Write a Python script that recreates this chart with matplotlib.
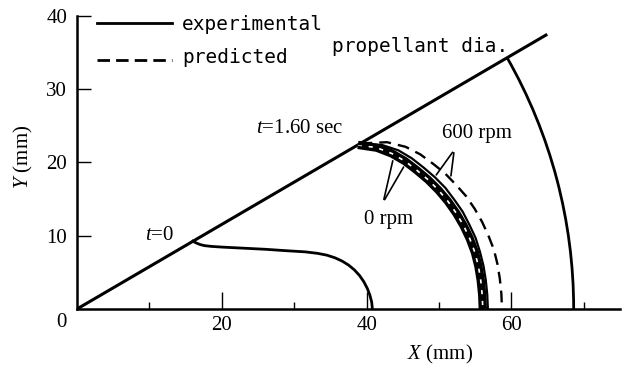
import numpy as np
from matplotlib import pyplot as plt
from matplotlib.patches import Arc

plt.rcParams['font.family'] = 'Liberation Serif'
plt.rcParams['mathtext.fontset'] = 'custom'
plt.rcParams['mathtext.rm'] = 'Liberation Serif'
plt.rcParams['mathtext.it'] = 'Liberation Serif:italic'

# symmetry line of the grain section (deg) and its length (mm)
diag_angle = 30.0
diag_len = 75.0
# outer propellant radius (mm)
prop_radius = 68.6

# burning surface at t = 0 (mm)
t0_x = [16.0, 16.5, 17.0, 17.6, 18.5, 20.0, 23.0, 26.0, 29.0, 31.5, 33.2, 34.5, 35.6,
        36.6, 37.5, 38.3, 39.0, 39.6, 40.1, 40.45, 40.7, 40.8]
t0_y = [9.25, 9.0, 8.8, 8.65, 8.55, 8.45, 8.3, 8.15, 7.95, 7.8, 7.6, 7.35, 7.0,
        6.55, 6.0, 5.35, 4.6, 3.75, 2.8, 1.9, 0.95, 0.0]

# burning surface at t = 1.60 sec, radius (mm) vs polar angle (deg)
theta_deg = [30, 28, 26, 24, 22, 20, 18, 16, 14, 12, 10, 8, 6, 4, 2, 0]
r_exp_0rpm = [44.8, 46.9, 48.4, 49.6, 50.6, 51.6, 52.5, 53.3, 54.0, 54.6, 55.1, 55.5, 55.75, 55.9, 56.0, 56.05]
r_pred_0rpm = [44.8, 46.9, 48.4, 49.6, 50.6, 51.6, 52.5, 53.3, 54.0, 54.6, 55.1, 55.5, 55.75, 55.9, 56.0, 56.05]
r_exp_600rpm = [45.0, 47.7, 49.4, 50.6, 51.6, 52.6, 53.5, 54.2, 54.9, 55.4, 55.9, 56.2, 56.45, 56.6, 56.7, 56.75]
r_pred_600rpm = [45.2, 48.5, 50.5, 51.9, 53.0, 54.1, 55.0, 55.9, 56.6, 57.2, 57.7, 58.15, 58.4, 58.55, 58.65, 58.7]

x_ticks = [20, 40, 60]
x_minor = [10, 30, 50, 70]
y_ticks = [10, 20, 30, 40]


def polar(r, deg):
    th = np.radians(deg)
    return np.asarray(r) * np.cos(th), np.asarray(r) * np.sin(th)


fig = plt.figure(figsize=(6.29, 3.70), dpi=100)
ax = fig.add_axes([0.1224, 0.1649, 0.8633, 0.7919])
ax.set(xlim=(0, 75), ylim=(0, 40))
for s in ['top', 'right']:
    ax.spines[s].set_visible(False)
for s in ['left', 'bottom']:
    ax.spines[s].set_linewidth(1.8)

ax.set_xticks(x_ticks)
ax.set_xticks(x_minor, minor=True)
ax.set_yticks(y_ticks)
ax.tick_params(axis='x', which='major', direction='in', length=12, width=1, pad=5, labelsize=15)
ax.tick_params(axis='x', which='minor', direction='in', length=5, width=1)
ax.tick_params(axis='y', which='major', direction='in', length=10, width=1, pad=7, labelsize=15)
ax.text(-2.1, -1.8, '0', fontsize=15, ha='center', va='center', clip_on=False)

# symmetry line and outer diameter
dx, dy = polar([0, diag_len], diag_angle)
ax.plot(dx, dy, color='k', lw=2.2, solid_capstyle='butt')
ax.add_patch(Arc((0, 0), 2 * prop_radius, 2 * prop_radius, theta1=0, theta2=diag_angle,
                 color='k', lw=2.0))

# t = 0
ax.plot(t0_x, t0_y, color='k', lw=2.0)

# t = 1.60 sec
x, y = polar(r_exp_0rpm, theta_deg)
ax.plot(x, y, color='k', lw=6.0, solid_capstyle='butt')
x, y = polar(r_pred_0rpm, theta_deg)
ax.plot(x, y, color='w', lw=1.2, dashes=(2.5, 4))
x, y = polar(r_exp_600rpm, theta_deg)
ax.plot(x, y, color='k', lw=1.6)
x, y = polar(r_pred_600rpm, theta_deg)
ax.plot(x, y, color='k', lw=1.7, dashes=(5, 3))

# legend
mono = 'DejaVu Sans Mono'
ax.plot([2.8, 13.1], [39.0, 39.0], color='k', lw=2.0, clip_on=False)
ax.plot([2.8, 13.1], [34.0, 34.0], color='k', lw=2.0, dashes=(4.5, 2.2))
ax.text(14.5, 38.8, 'experimental', family=mono, fontsize=14, va='center')
ax.text(14.5, 34.3, 'predicted', family=mono, fontsize=14, va='center')
ax.text(35.2, 35.8, 'propellant dia.', family=mono, fontsize=14, va='center')

# annotations
ax.text(11.4, 10.1, '$t$=0', fontsize=15, ha='center', va='center')
ax.text(30.8, 24.7, '$t$=1.60 sec', fontsize=15, ha='center', va='center')
ax.text(55.3, 24.0, '600 rpm', fontsize=15, ha='center', va='center')
ax.text(43.1, 12.2, '0 rpm', fontsize=15, ha='center', va='center')
for tip in [(43.7, 20.6), (45.3, 19.7)]:
    ax.annotate('', xy=tip, xytext=(42.3, 14.6), arrowprops=dict(arrowstyle='-', lw=1.2))
for tip in [(49.4, 18.0), (51.6, 17.8)]:
    ax.annotate('', xy=tip, xytext=(52.1, 21.7), arrowprops=dict(arrowstyle='-', lw=1.2))

ax.text(0.668, -0.154, '$X$ (mm)', transform=ax.transAxes, fontsize=15,
        ha='center', va='center')
ax.text(-0.0994, 0.519, '$Y$ (mm)', transform=ax.transAxes, fontsize=15,
        ha='center', va='center', rotation=90)

fig.savefig('out.png', dpi=100)
